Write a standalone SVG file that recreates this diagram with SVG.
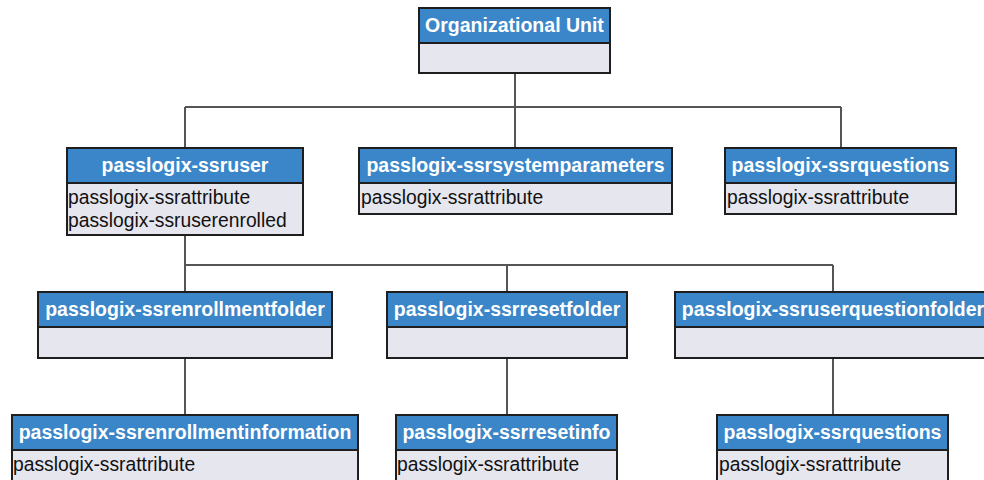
<svg xmlns="http://www.w3.org/2000/svg" width="984" height="480" viewBox="0 0 984 480">
<defs>
<style>
.hd{fill:#3a86c8;stroke:#1e1e1e;stroke-width:2}
.bd{fill:#e6e6ee;stroke:#1e1e1e;stroke-width:2}
.ht{font-family:"Liberation Sans",Arial,sans-serif;font-weight:bold;font-size:19.5px;fill:#ffffff;text-anchor:middle}
.bt{font-family:"Liberation Sans",Arial,sans-serif;font-size:19.3px;fill:#111111}
.cn{fill:none;stroke:#555555;stroke-width:2}
</style>
</defs>
<rect width="984" height="480" fill="#ffffff"/>
<g id="connectors">
<path class="cn" d="M515 73V107M185 107H841M185 107V148M515 107V148M841 107V148"/>
<path class="cn" d="M185 235V265H833M185 265V292M507 265V292M833 265V292"/>
<path class="cn" d="M185 359V415M507 359V415M833 359V415"/>
</g>
<g id="orgunit">
<rect class="bd" x="419" y="43" width="191" height="30"/>
<rect class="hd" x="419" y="8" width="191" height="35"/>
<text class="ht" x="514.5" y="32">Organizational Unit</text>
</g>
<g id="ssruser">
<rect class="bd" x="67" y="183" width="236" height="52"/>
<rect class="hd" x="67" y="148" width="236" height="35"/>
<text class="ht" x="185" y="172">passlogix-ssruser</text>
<text class="bt" x="68" y="204">passlogix-ssrattribute</text>
<text class="bt" x="68" y="227">passlogix-ssruserenrolled</text>
</g>
<g id="ssrsystemparameters">
<rect class="bd" x="359" y="183" width="313" height="31"/>
<rect class="hd" x="359" y="148" width="313" height="35"/>
<text class="ht" x="515.5" y="172">passlogix-ssrsystemparameters</text>
<text class="bt" x="361" y="204">passlogix-ssrattribute</text>
</g>
<g id="ssrquestions-top">
<rect class="bd" x="725" y="183" width="231" height="31"/>
<rect class="hd" x="725" y="148" width="231" height="35"/>
<text class="ht" x="840.5" y="172">passlogix-ssrquestions</text>
<text class="bt" x="727" y="204">passlogix-ssrattribute</text>
</g>
<g id="ssrenrollmentfolder">
<rect class="bd" x="38" y="327" width="294" height="31"/>
<rect class="hd" x="38" y="292" width="294" height="35"/>
<text class="ht" x="185" y="316">passlogix-ssrenrollmentfolder</text>
</g>
<g id="ssrresetfolder">
<rect class="bd" x="387" y="327" width="240" height="31"/>
<rect class="hd" x="387" y="292" width="240" height="35"/>
<text class="ht" x="507" y="316">passlogix-ssrresetfolder</text>
</g>
<g id="ssruserquestionfolder">
<rect class="bd" x="675" y="327" width="320" height="31"/>
<rect class="hd" x="675" y="292" width="320" height="35"/>
<text class="ht" x="833" y="316">passlogix-ssruserquestionfolder</text>
</g>
<g id="ssrenrollmentinformation">
<rect class="bd" x="12" y="450" width="346" height="40"/>
<rect class="hd" x="12" y="415" width="346" height="35"/>
<text class="ht" x="185" y="439">passlogix-ssrenrollmentinformation</text>
<text class="bt" x="13" y="471">passlogix-ssrattribute</text>
</g>
<g id="ssrresetinfo">
<rect class="bd" x="396" y="450" width="221" height="40"/>
<rect class="hd" x="396" y="415" width="221" height="35"/>
<text class="ht" x="506.5" y="439">passlogix-ssrresetinfo</text>
<text class="bt" x="397" y="471">passlogix-ssrattribute</text>
</g>
<g id="ssrquestions-bottom">
<rect class="bd" x="717" y="450" width="231" height="40"/>
<rect class="hd" x="717" y="415" width="231" height="35"/>
<text class="ht" x="832.5" y="439">passlogix-ssrquestions</text>
<text class="bt" x="719" y="471">passlogix-ssrattribute</text>
</g>
</svg>
